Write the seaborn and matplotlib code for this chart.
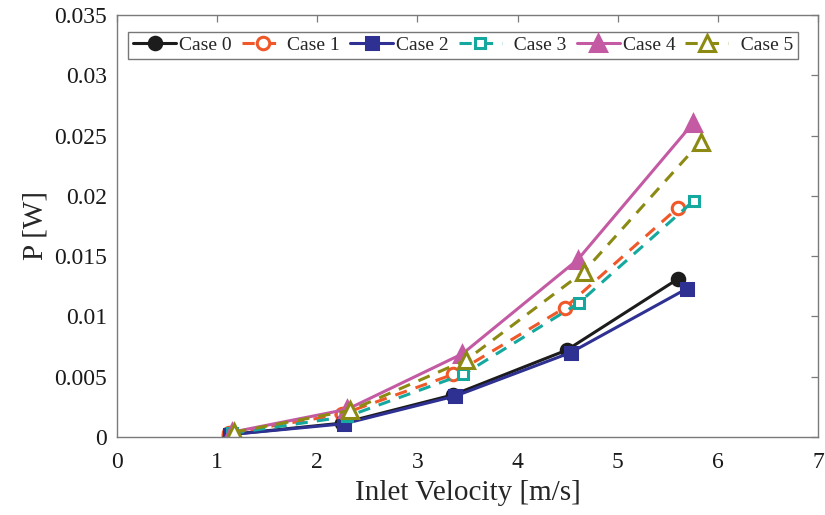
import matplotlib
matplotlib.use("Agg")
import matplotlib.pyplot as plt
import seaborn as sns
import pandas as pd

# Inlet velocity [m/s] and harvested power [W] for each configuration
case_labels = ["Case 0", "Case 1", "Case 2", "  Case 3", "Case 4", "  Case 5"]

v_case0 = [1.12, 2.25, 3.36, 4.49, 5.60]
p_case0 = [0.0002, 0.00115, 0.0035, 0.0072, 0.0131]

v_case1 = [1.12, 2.25, 3.36, 4.47, 5.60]
p_case1 = [0.0003, 0.0019, 0.0052, 0.0107, 0.0190]

v_case2 = [1.13, 2.27, 3.38, 4.53, 5.69]
p_case2 = [0.0002, 0.0011, 0.0034, 0.0070, 0.0123]

v_case3 = [1.15, 2.30, 3.46, 4.61, 5.76]
p_case3 = [0.0003, 0.0017, 0.0052, 0.0111, 0.0196]

v_case4 = [1.15, 2.30, 3.45, 4.60, 5.75]
p_case4 = [0.0004, 0.0023, 0.0069, 0.0147, 0.0260]

v_case5 = [1.17, 2.33, 3.49, 4.66, 5.83]
p_case5 = [0.0004, 0.0022, 0.0064, 0.0137, 0.0245]

velocities = [v_case0, v_case1, v_case2, v_case3, v_case4, v_case5]
powers = [p_case0, p_case1, p_case2, p_case3, p_case4, p_case5]

x_ticks = [0, 1, 2, 3, 4, 5, 6, 7]
y_ticks = [0, 0.005, 0.01, 0.015, 0.02, 0.025, 0.03, 0.035]
y_ticklabels = ["0", "0.005", "0.01", "0.015", "0.02", "0.025", "0.03", "0.035"]

# Line styling for each case
styles = [
    dict(color="#1c1c1c", marker="o", ls="-", mfc="#1c1c1c", ms=9),
    dict(color="#F0582A", marker="o", ls=(0, (4, 3)), mfc="white", ms=9),
    dict(color="#2E3192", marker="s", ls="-", mfc="#2E3192", ms=8),
    dict(color="#14A89E", marker="s", ls=(0, (4, 3)), mfc="white", ms=7.5),
    dict(color="#C45AA3", marker="^", ls="-", mfc="#C45AA3", ms=11),
    dict(color="#8C8A12", marker="^", ls=(0, (4, 3)), mfc="white", ms=11),
]

frames = []
for lab, v, p in zip(case_labels, velocities, powers):
    frames.append(pd.DataFrame({"velocity": v, "power": p, "case": lab}))
df = pd.concat(frames, ignore_index=True)

sns.set_theme(style="white")
plt.rcParams["font.family"] = ["Liberation Serif", "DejaVu Serif"]

fig = plt.figure(figsize=(8.25, 5.15), dpi=100)
ax = fig.add_axes([0.1418, 0.1515, 0.8497, 0.8194])

for lab, st in zip(case_labels, styles):
    sub = df[df["case"] == lab]
    sns.lineplot(
        data=sub, x="velocity", y="power", ax=ax, label=lab,
        color=st["color"], linestyle=st["ls"], linewidth=2.2,
        marker=st["marker"], markersize=st["ms"],
        markerfacecolor=st["mfc"], markeredgecolor=st["color"],
        markeredgewidth=2.2, sort=False,
    )

ax.set_xlim(0, 7)
ax.set_ylim(0, 0.035)
ax.set_xticks(x_ticks)
ax.set_yticks(y_ticks)
ax.set_yticklabels(y_ticklabels)
ax.set_xlabel("Inlet Velocity [m/s]", fontsize=21, labelpad=5)
ax.set_ylabel("P [W]", fontsize=21, labelpad=4)

spine_col = "#7a7a7a"
for s in ax.spines.values():
    s.set_visible(True)
    s.set_color(spine_col)
    s.set_linewidth(1.0)
ax.tick_params(axis="both", which="both", direction="in", length=5,
               width=0.9, color=spine_col, labelsize=17,
               top=True, right=True, labelcolor="#1a1a1a")
ax.tick_params(axis="x", pad=11)
ax.tick_params(axis="y", pad=7)

leg = ax.legend(loc="upper center", bbox_to_anchor=(0.494, 0.97), ncol=6,
                fontsize=14, frameon=True, fancybox=False,
                handlelength=2.2, handletextpad=0.15, columnspacing=0.52,
                borderpad=0.25, borderaxespad=0.2)
leg.get_frame().set_edgecolor("#555555")
leg.get_frame().set_linewidth(1.0)

fig.savefig("out.png", dpi=100)
